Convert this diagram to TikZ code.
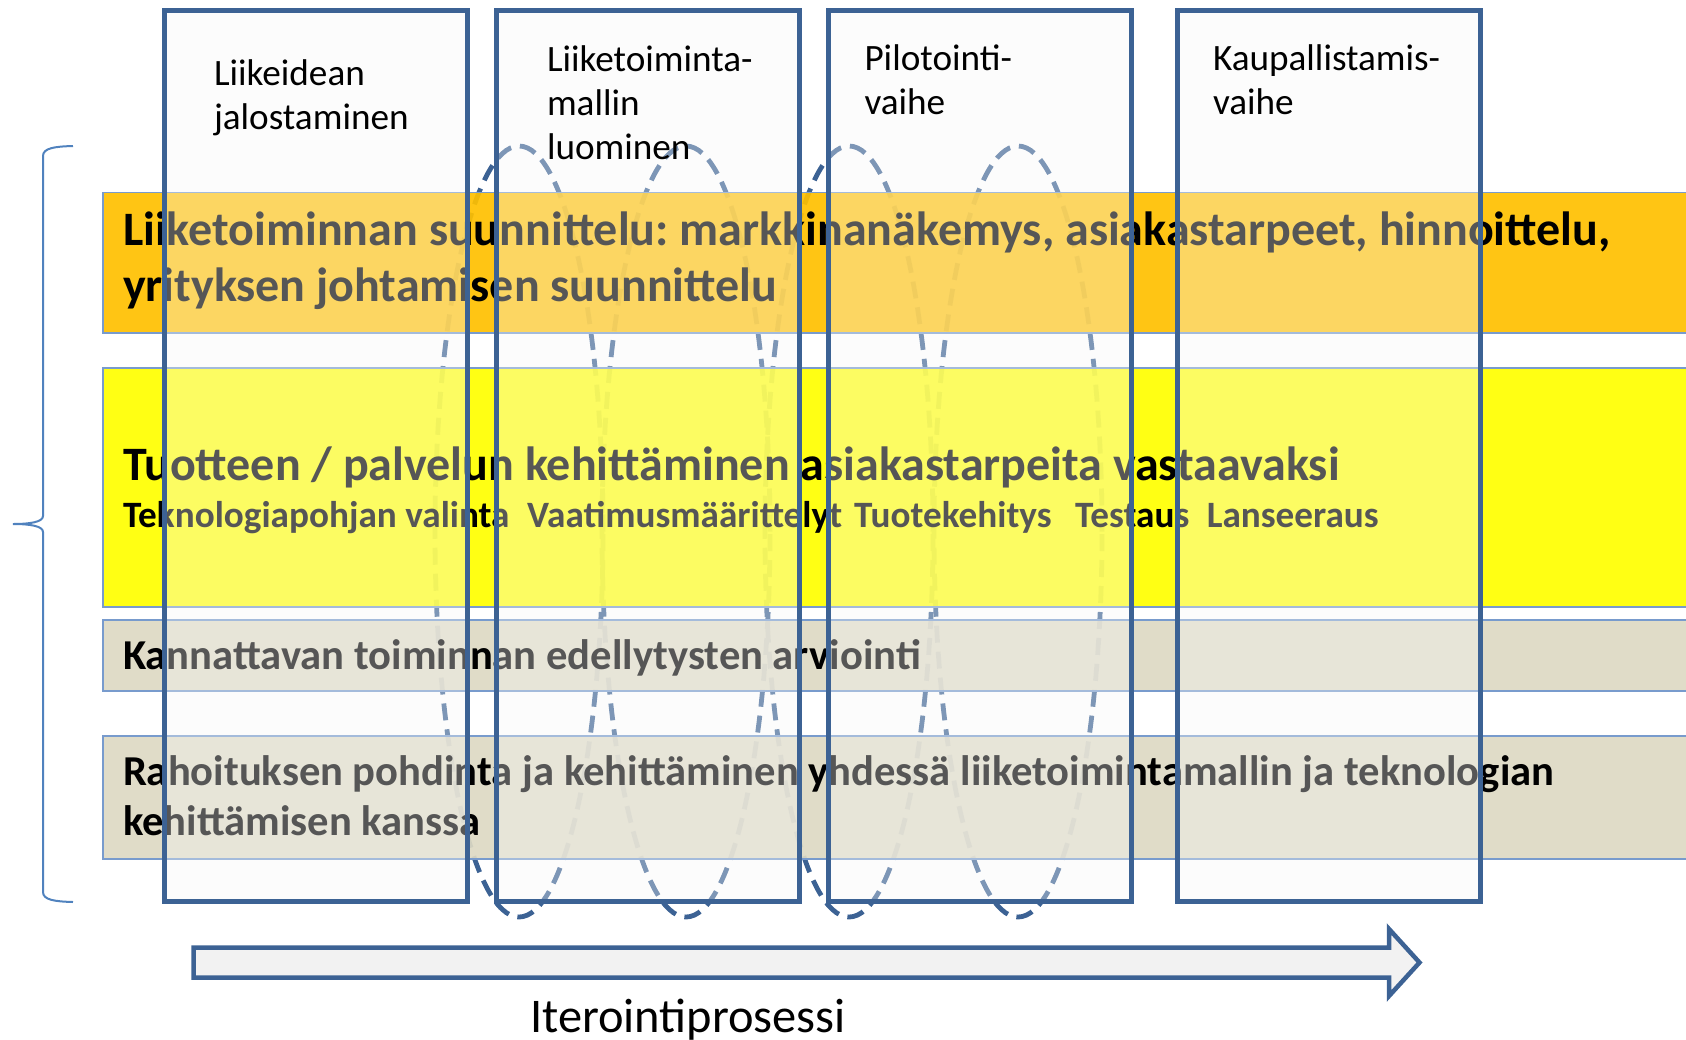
\documentclass[tikz,border=0pt]{standalone}
\usepackage{fontspec}
\setmainfont{Carlito}
\frenchspacing
\usetikzlibrary{positioning}

\definecolor{frameblue}{RGB}{60,98,148}
\definecolor{bandedge}{RGB}{120,155,205}
\definecolor{goldband}{RGB}{255,192,0}
\definecolor{yellowband}{RGB}{255,255,0}
\definecolor{tanband}{RGB}{221,217,195}
\definecolor{bracecol}{RGB}{80,130,190}
\definecolor{arrowfill}{RGB}{242,242,242}
\definecolor{phasefill}{RGB}{247,247,247}

\begin{document}
\begin{tikzpicture}[x=0.5pt, y=-0.5pt, every node/.style={inner sep=0cm, outer sep=0cm, text opacity=1},
    bandbox/.style={rectangle, draw=bandedge, line width=0.75pt, fill opacity=0.92, anchor=north west, minimum width=800pt},
    phasebox/.style={rectangle, draw=frameblue, line width=2.5pt, fill=phasefill, fill opacity=0.35, anchor=north west, minimum width=151.5pt, minimum height=445.5pt},
    phasetitle/.style={anchor=base west, align=left, font={\fontsize{18.6}{22}\selectfont}},
    bandtext/.style={anchor=base west, align=left},
    iterloop/.style={draw=frameblue, line width=2.4pt, dash pattern=on 8.5pt off 4.5pt}]
    \useasboundingbox (0,0) rectangle (1686,1039);

    % iteration loops behind the bands
    \draw[iterloop] (519,531.5) ellipse [x radius=42pt, y radius=192.75pt];
    \draw[iterloop] (686,531.5) ellipse [x radius=42pt, y radius=192.75pt];
    \draw[iterloop] (849,531.5) ellipse [x radius=42pt, y radius=192.75pt];
    \draw[iterloop] (1018,531.5) ellipse [x radius=42pt, y radius=192.75pt];

    \node (plan) [bandbox, fill=goldband, minimum height=70.25pt] at (103,192.5) {};
    \node (product) [bandbox, fill=yellowband, minimum height=119.5pt, below=17.5pt of plan] {};
    \node (profit) [bandbox, fill=tanband, minimum height=35.5pt, below=6.5pt of product] {};
    \node (funding) [bandbox, fill=tanband, minimum height=61.5pt, below=22.5pt of profit] {};

    % the base of a two-line text is its last line
    \node (plantext) [bandtext, font={\fontsize{24}{28}\selectfont\bfseries}] at (123,301.7) {
        Liiketoiminnan suunnittelu: markkinanäkemys, asiakastarpeet, hinnoittelu,\\
        yrityksen johtamisen suunnittelu
    };
    \node (producttext) [bandtext, font={\fontsize{24}{28}\selectfont\bfseries}] at (123,480) {
        Tuotteen / palvelun kehittäminen asiakastarpeita vastaavaksi
    };
    \node (steps) [bandtext, font={\fontsize{18.6}{22}\selectfont\bfseries}] at (123,527) {%
        \makebox[202pt][l]{Teknologiapohjan valinta}\makebox[163.5pt][l]{Vaatimusmäärittelyt}\makebox[110.5pt][l]{Tuotekehitys}\makebox[65.75pt][l]{Testaus}Lanseeraus%
    };
    \node (profittext) [bandtext, font={\fontsize{21.3}{25}\selectfont\bfseries}] at (123,669) {
        Kannattavan toiminnan edellytysten arviointi
    };
    \node (fundingtext) [bandtext, font={\fontsize{21.3}{25}\selectfont\bfseries}] at (123,835) {
        Rahoituksen pohdinta ja kehittäminen yhdessä liiketoimintamallin ja teknologian\\
        kehittämisen kanssa
    };

    \node (idea) [phasebox] at (164,10.5) {};
    \node (model) [phasebox, right=14.5pt of idea] {};
    \node (pilot) [phasebox, right=14.5pt of model] {};
    \node (market) [phasebox, right=23pt of pilot] {};

    \node (ideatitle) [phasetitle] at (214,129) {Liikeidean\\jalostaminen};
    \node (modeltitle) [phasetitle] at (547,159) {Liiketoiminta-\\mallin\\luominen};
    \node (pilottitle) [phasetitle] at (864.5,114) {Pilotointi-\\vaihe};
    \node (markettitle) [phasetitle] at (1213,114) {Kaupallistamis-\\vaihe};

    % brace over all the bands
    \draw[draw=bracecol, line width=1pt] (73,146) .. controls (55,146.5) and (43,148) .. (43,156) -- (43,516)
        .. controls (43,522) and (30,524) .. (13,524) .. controls (30,524) and (43,526) .. (43,532)
        -- (43,892) .. controls (43,900) and (55,901.5) .. (73,902);

    % process arrow
    \draw[draw=frameblue, fill=arrowfill, line width=2.25pt] (193.5,947.5) -- (1389,947.5) -- (1389,929)
        -- (1419.5,962.5) -- (1389,996) -- (1389,977.5) -- (193.5,977.5) -- cycle;
    \node (iteration) [anchor=base, font={\fontsize{24.2}{28}\selectfont}] at (688,1032) {Iterointiprosessi};
\end{tikzpicture}
\end{document}
